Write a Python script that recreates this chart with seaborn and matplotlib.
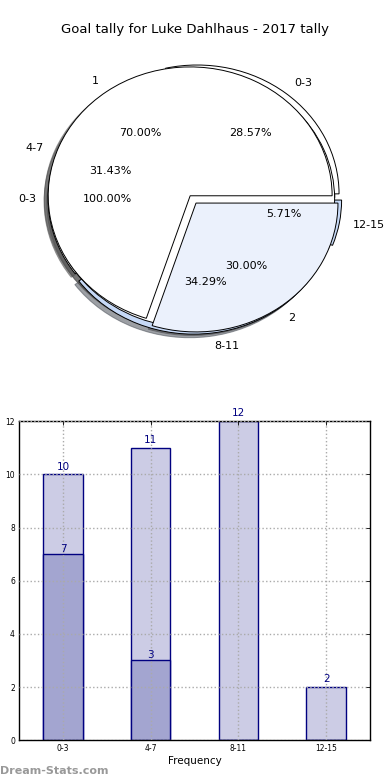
import matplotlib
matplotlib.use("Agg")
import matplotlib.pyplot as plt
import seaborn as sns

# Goal tally data
intervals = ["0-3", "4-7", "8-11", "12-15"]
games = [10, 11, 12, 2]
highlight = [7, 3, 0, 0]

split_labels = ["1", "2"]
split_values = [7, 3]

single_label = ["0-3"]
single_value = [10]

sns.set_style("white")
plt.rcParams["font.family"] = ["DejaVu Sans"]
plt.rcParams["text.color"] = "black"
plt.rcParams["axes.labelcolor"] = "black"
plt.rcParams["xtick.color"] = "black"
plt.rcParams["ytick.color"] = "black"

fig = plt.figure(figsize=(3.9, 7.8), dpi=100)
fig.text(0.5, 0.962, "Goal tally for Luke Dahlhaus - 2017 tally",
         ha="center", va="center", fontsize=9.5)

# Pie chart (three overlapping pies)
ax1 = fig.add_axes([0.039, 0.5385, 0.91, 0.413])
wp = dict(edgecolor="black", linewidth=0.7)
ax1.pie(games, labels=intervals, autopct="%.2f%%", explode=[0.05, 0.02, 0.05, 0.05],
        colors=["white", "white", "#c6d9f7", "#c6d9f7"], shadow=True,
        wedgeprops=wp, textprops=dict(fontsize=8))
ax1.pie(single_value, labels=single_label, autopct="%.2f%%", shadow=True,
        colors=["white"], wedgeprops=wp, textprops=dict(fontsize=8))
ax1.pie(split_values, labels=split_labels, autopct="%.2f%%", explode=[0.03, 0.04],
        colors=["white", "#ebf1fc"], shadow=True,
        wedgeprops=wp, textprops=dict(fontsize=8))
ax1.set_aspect("auto")
ax1.set_xlim(-1.25, 1.25)
ax1.set_ylim(-1.25, 1.25)

# Bar chart
ax2 = fig.add_axes([0.049, 0.051, 0.9, 0.409])
sns.barplot(x=intervals, y=games, color="#ccccE5", edgecolor="navy",
            linewidth=1, width=0.45, saturation=1, ax=ax2)
sns.barplot(x=intervals, y=highlight, color="#a3a5d0", edgecolor="navy",
            linewidth=1, width=0.45, saturation=1, ax=ax2)
ax2.bar_label(ax2.containers[0], labels=[str(v) for v in games],
              padding=2, color="navy", fontsize=7.5)
ax2.bar_label(ax2.containers[1], labels=[str(v) if v else "" for v in highlight],
              padding=0, color="navy", fontsize=7.5)

ax2.set_xlim(-0.5, 3.5)
ax2.set_ylim(0, 12)
ax2.set_yticks(range(0, 13, 2))
ax2.grid(True, linestyle=":", color="#aaaaaa", linewidth=1)
ax2.set_axisbelow(False)
for s in ax2.spines.values():
    s.set_color("black")
    s.set_linewidth(1)
ax2.tick_params(direction="in", top=True, right=True, labelsize=5.5,
                length=3, width=0.6, pad=3)
ax2.set_xlabel("Frequency", fontsize=7.5, labelpad=2)
ax2.set_ylabel("Goal tally", fontsize=7.5)
ax2.yaxis.set_label_coords(-0.062, 0.5)

fig.text(0.0, 0.012, "Dream-Stats.com", fontsize=8, color="#999999",
         fontweight="bold", ha="left", va="center")

fig.savefig("out.png", dpi=100)
